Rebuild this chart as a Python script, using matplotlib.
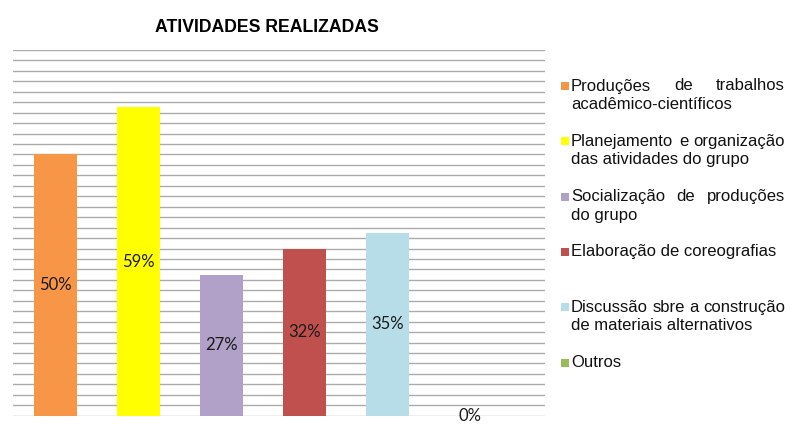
import numpy as np
import matplotlib
matplotlib.use("Agg")
import matplotlib.pyplot as plt
from matplotlib.patches import Rectangle

# data
categories = [
    ["Produções de trabalhos", "acadêmico-científicos"],
    ["Planejamento e organização", "das atividades do grupo"],
    ["Socialização de produções", "do grupo"],
    ["Elaboração de coreografias"],
    ["Discussão sbre a construção", "de materiais alternativos"],
    ["Outros"],
]
values = [0.50, 0.59, 0.27, 0.32, 0.35, 0.0]
labels = ["50%", "59%", "27%", "32%", "35%", "0%"]
colors = ["#F79646", "#FFFF00", "#B1A0C7", "#C0504D", "#B7DEE8", "#9BBB59"]

W, H = 794, 440
fig = plt.figure(figsize=(W / 100, H / 100), dpi=100)
ax = fig.add_axes([13 / W, 1 - 415.7 / H, (545 - 13) / W, (415.7 - 50) / H])

x = np.arange(len(values))
bars = ax.bar(x, values, width=0.52, color=colors, zorder=3)
ax.bar_label(bars, labels=labels, label_type="center", fontsize=12,
             family="Lato", color="#1a1a1a", zorder=4)

ax.set_xlim(-0.512, 5.9)
ax.set_ylim(0, 0.70)
ax.set_yticks(np.arange(0, 0.701, 0.02))
ax.yaxis.grid(True, color="#ababab", linewidth=1.0, zorder=0)
ax.tick_params(left=False, bottom=False, labelleft=False, labelbottom=False)
ax.set_xticks([])
for s in ax.spines.values():
    s.set_visible(False)

fig.text(267 / W, 1 - 27.5 / H, "ATIVIDADES REALIZADAS", ha="center", va="center",
         fontsize=12.7, fontweight="bold", family="Liberation Sans")

# legend drawn by hand (justified text like the original)
renderer = fig.canvas.get_renderer()
tx0, tx1 = 571, 785
y0, slot, lh = 86, 55.3, 18.5
fs = 12
for i, (lines, c) in enumerate(zip(categories, colors)):
    ytop = y0 + i * slot
    fig.patches.append(Rectangle((561 / W, 1 - (ytop + 4) / H), 7.5 / W, 8 / H,
                                 transform=fig.transFigure, facecolor=c,
                                 edgecolor="none"))
    for j, line in enumerate(lines):
        yy = 1 - (ytop + j * lh) / H
        words = line.split(" ")
        justify = len(lines) > 1 and j < len(lines) - 1 and len(words) > 1
        if not justify:
            fig.text(tx0 / W, yy, line, ha="left", va="center", fontsize=fs,
                     family="Liberation Sans", color="#111111")
            continue
        arts = [fig.text(0, yy, w, ha="left", va="center", fontsize=fs,
                         family="Liberation Sans", color="#111111") for w in words]
        widths = [a.get_window_extent(renderer).width for a in arts]
        gap = (tx1 - tx0 - sum(widths)) / (len(words) - 1)
        pos = tx0
        for a, wd in zip(arts, widths):
            a.set_x(pos / W)
            pos += wd + gap

fig.savefig("out.png", dpi=100)
